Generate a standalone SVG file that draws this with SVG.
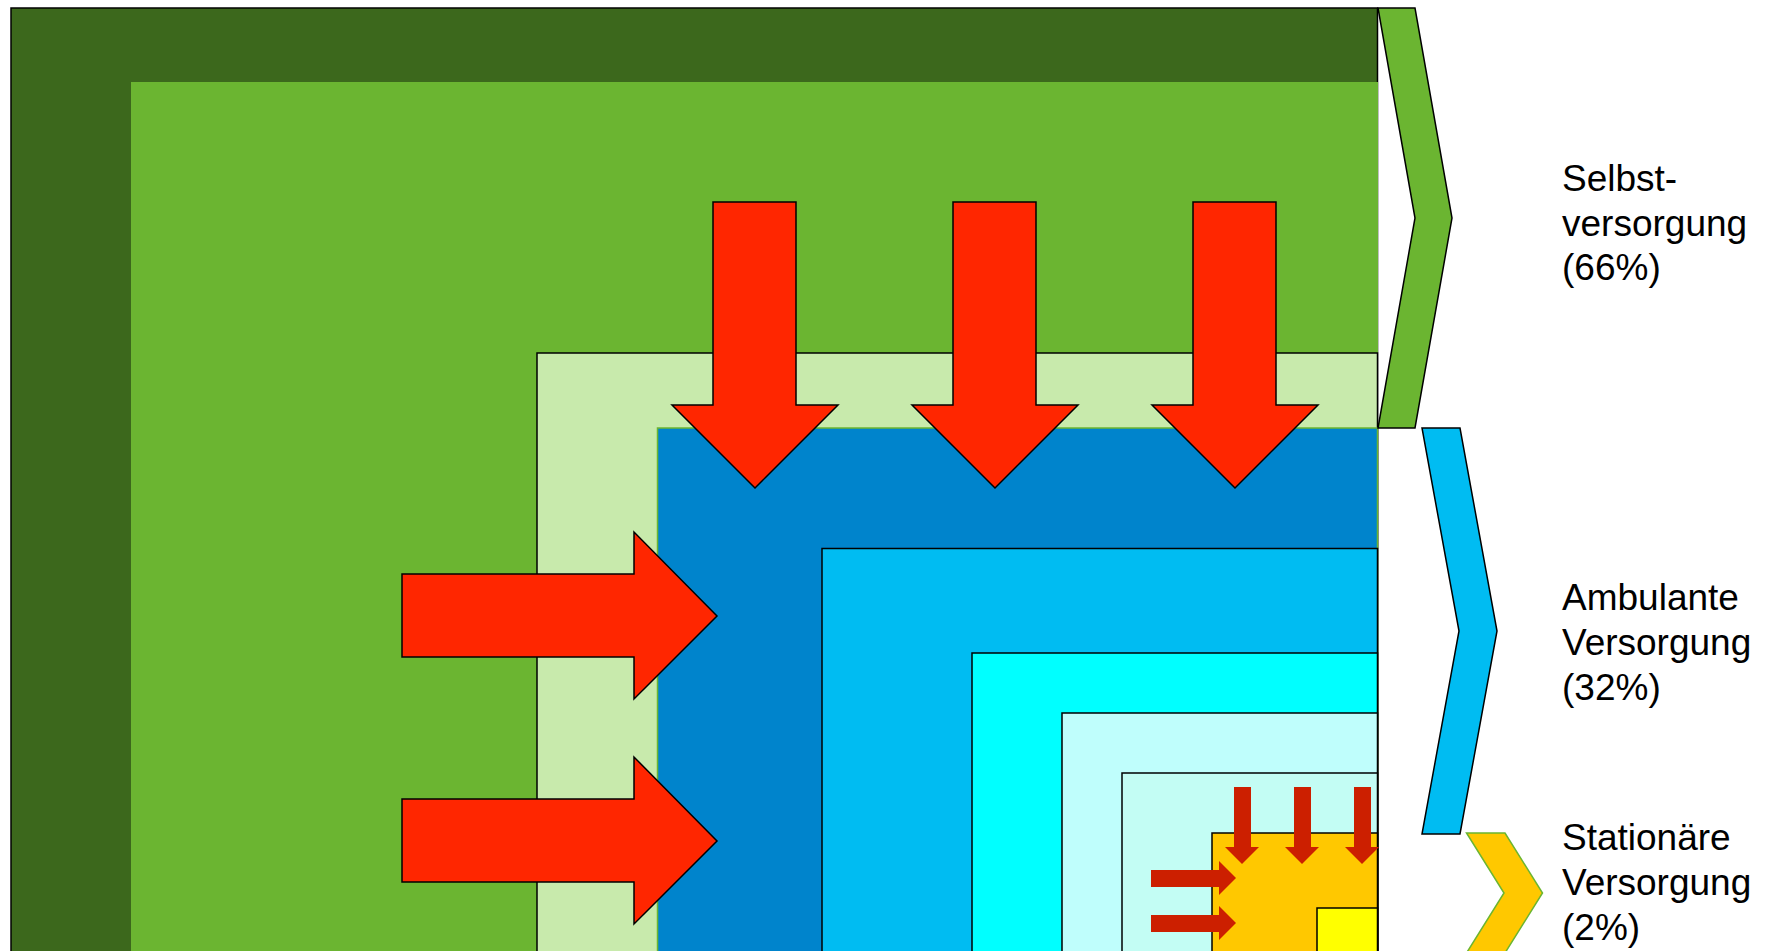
<svg xmlns="http://www.w3.org/2000/svg" width="1767" height="951" viewBox="0 0 1767 951">
  <style>
    .blk { stroke: #000; stroke-width: 1.5; }
    .grn { stroke: #6BB531; stroke-width: 1.5; }
    .big { fill: #FF2600; stroke: #000; stroke-width: 1.5; stroke-linejoin: miter; }
    .small { fill: #CC1F00; stroke: none; }
    .lbl { font-family: "Liberation Sans", Arial, sans-serif; font-size: 37px; fill: #000; }
  </style>
  <rect width="1767" height="951" fill="#fff"/>
  <g id="layers">
    <g id="selbst-outer"><rect x="11" y="8" width="1366.5" height="1000" fill="#3C681C" class="blk"/></g>
    <g id="selbst-inner"><rect x="131" y="82" width="1247" height="930" fill="#6BB531"/></g>
    <g id="selbst-light"><rect x="537" y="353" width="840.5" height="660" fill="#C8EAAC" class="blk"/></g>
    <g id="ambulant-1"><rect x="657.5" y="428" width="720" height="600" fill="#0084CC" class="grn"/></g>
    <g id="ambulant-2"><rect x="822" y="548.5" width="555.5" height="500" fill="#00BCF2" class="blk"/></g>
    <g id="ambulant-3"><rect x="972" y="653" width="405.5" height="400" fill="#00FFFF" class="blk"/></g>
    <g id="ambulant-4"><rect x="1062" y="713" width="315.5" height="300" fill="#BFFEFC" class="blk"/></g>
    <g id="ambulant-5"><rect x="1122" y="773" width="255.5" height="300" fill="#C3FDF4" class="blk"/></g>
    <g id="stationaer-1"><rect x="1212" y="833" width="165.5" height="200" fill="#FFC800" class="blk"/></g>
    <g id="stationaer-2"><rect x="1317" y="908" width="60.5" height="100" fill="#FFFF00" class="blk"/></g>
  </g>
  <g id="connectors">
    <polygon class="big" points="713,202 796,202 796,405 838,405 755,488 672,405 713,405"/>
    <polygon class="big" points="953,202 1036,202 1036,405 1078,405 995,488 912,405 953,405"/>
    <polygon class="big" points="1193,202 1276,202 1276,405 1318,405 1235,488 1152,405 1193,405"/>
    <polygon class="big" points="402,574 634,574 634,532 717,616 634,699 634,657 402,657"/>
    <polygon class="big" points="402,799 634,799 634,757 717,841 634,924 634,882 402,882"/>
    <polygon class="small" points="1234,787 1251,787 1251,847 1259,847 1242,864 1225,847 1234,847"/>
    <polygon class="small" points="1294,787 1311,787 1311,847 1319,847 1302,864 1285,847 1294,847"/>
    <polygon class="small" points="1354,787 1371,787 1371,847 1379,847 1362,864 1345,847 1354,847"/>
    <polygon class="small" points="1151,870 1219,870 1219,861 1236,878 1219,895 1219,887 1151,887"/>
    <polygon class="small" points="1151,915 1219,915 1219,906 1236,923 1219,940 1219,932 1151,932"/>
  </g>
  <g id="chevron-selbst">
    <polygon points="1378,8 1415,8 1452,218 1415,428 1378,428 1415,218" fill="#6BB531" class="blk"/>
    <text class="lbl" x="1562" y="191">Selbst-<tspan x="1562" dy="44.5">versorgung</tspan><tspan x="1562" dy="44.5">(66%)</tspan></text>
  </g>
  <g id="chevron-ambulant">
    <polygon points="1422,428 1460,428 1497,631 1460,834 1422,834 1459,631" fill="#00BCF2" class="blk"/>
    <text class="lbl" x="1562" y="610">Ambulante<tspan x="1562" dy="45">Versorgung</tspan><tspan x="1562" dy="45">(32%)</tspan></text>
  </g>
  <g id="chevron-stationaer">
    <polygon points="1466.5,833 1505,833 1542.5,893 1505,953 1466.5,953 1504,893" fill="#FFC800" class="grn"/>
    <text class="lbl" x="1562" y="850">Stationäre<tspan x="1562" dy="45">Versorgung</tspan><tspan x="1562" dy="45">(2%)</tspan></text>
  </g>
</svg>
